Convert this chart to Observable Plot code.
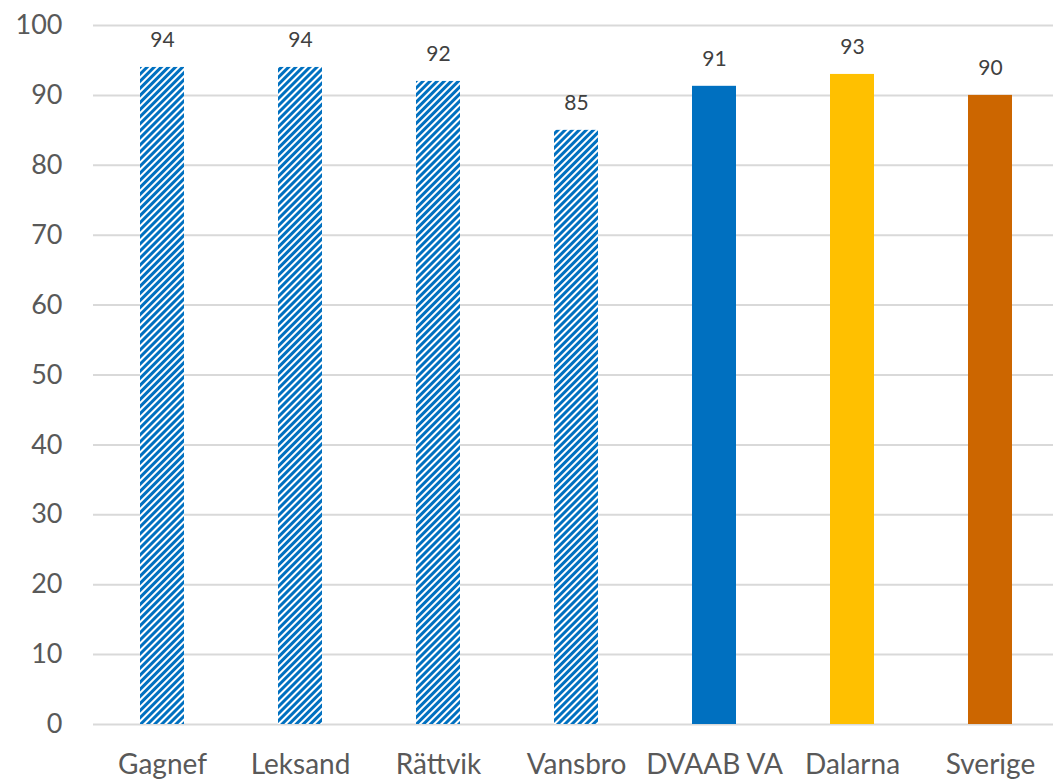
<!DOCTYPE html>
<html>
<head>
<meta charset="utf-8">
<script src="https://cdn.jsdelivr.net/npm/d3@7"></script>
<script src="https://cdn.jsdelivr.net/npm/@observablehq/plot@0.6"></script>
<style>
  html, body { margin: 0; padding: 0; background: #fff; }
  #chart svg { display: block; }
</style>
</head>
<body>
<div id="chart"></div>
<script>
const categories = ["Gagnef", "Leksand", "Rättvik", "Vansbro", "DVAAB VA", "Dalarna", "Sverige"];
const values = [94, 94, 92, 85, 91.3, 93, 90];
const yTicks = [0, 10, 20, 30, 40, 50, 60, 70, 80, 90, 100];
const barFills = ["url(#hatch)", "url(#hatch)", "url(#hatch)", "url(#hatch)", "#0070C0", "#FFC000", "#CC6600"];

const data = categories.map((c, i) => ({category: c, value: values[i], fill: barFills[i]}));

const font = "Lato, 'Open Sans', sans-serif";

const chart = Plot.plot({
  width: 1053,
  height: 781,
  marginLeft: 93,
  marginRight: 0,
  marginTop: 25,
  marginBottom: 57,
  style: {fontFamily: font, background: "#fff"},
  x: {domain: categories, range: [93, 1060], paddingInner: 0.68, paddingOuter: 0.34, align: 0.5, label: null, tickSize: 0, tickPadding: 30},
  y: {domain: [0, 100], ticks: yTicks, label: null, tickSize: 0, tickPadding: 31},
  marks: [
    Plot.gridY(yTicks, {stroke: "#d9d9d9", strokeWidth: 2, strokeOpacity: 1}),
    Plot.barY(data, {x: "category", y: "value", fill: "fill"}),
    Plot.text(data, {x: "category", y: "value", text: d => String(Math.round(d.value)), dy: -27, fontSize: 21, fill: "#404040"}),
    Plot.axisY({ticks: yTicks, tickSize: 0, tickPadding: 31, fontSize: 27, color: "#595959", label: null}),
    Plot.axisX({tickSize: 0, tickPadding: 30, fontSize: 28, color: "#595959", label: null})
  ]
});

const ns = "http://www.w3.org/2000/svg";
const defs = document.createElementNS(ns, "defs");
const pattern = document.createElementNS(ns, "pattern");
pattern.setAttribute("id", "hatch");
pattern.setAttribute("patternUnits", "userSpaceOnUse");
pattern.setAttribute("width", "5");
pattern.setAttribute("height", "5");
pattern.setAttribute("patternTransform", "rotate(45)");
const bg = document.createElementNS(ns, "rect");
bg.setAttribute("width", "5"); bg.setAttribute("height", "5"); bg.setAttribute("fill", "#fff");
const stripe = document.createElementNS(ns, "rect");
stripe.setAttribute("width", "3"); stripe.setAttribute("height", "5"); stripe.setAttribute("fill", "#0070C0");
pattern.appendChild(bg); pattern.appendChild(stripe);
defs.appendChild(pattern);
chart.insertBefore(defs, chart.firstChild);

document.getElementById("chart").appendChild(chart);
</script>
</body>
</html>
